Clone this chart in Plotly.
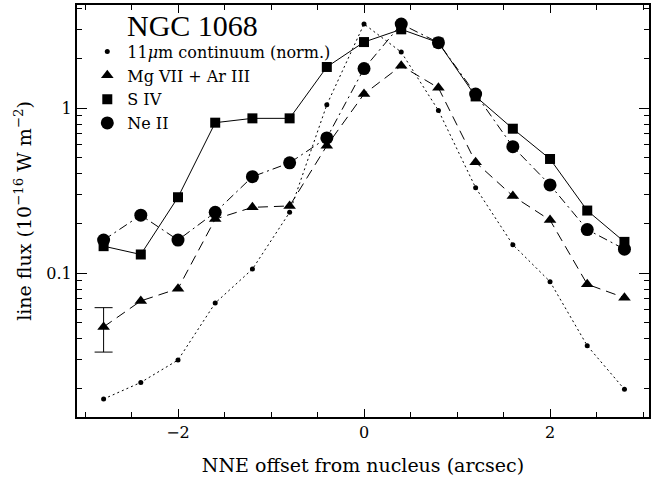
import plotly.graph_objects as go

offset = [-2.8, -2.4, -2.0, -1.6, -1.2, -0.8, -0.4, 0.0, 0.4, 0.8, 1.2, 1.6, 2.0, 2.4, 2.8]
continuum = [0.0173, 0.0218, 0.0298, 0.066, 0.106, 0.234, 1.05, 3.24, 2.19, 0.97, 0.330, 0.149, 0.089, 0.0364, 0.0198]
mg_ar = [0.0473, 0.068, 0.0807, 0.213, 0.251, 0.256, 0.593, 1.22, 1.81, 1.33, 0.471, 0.294, 0.210, 0.0858, 0.0711]
s_iv = [0.146, 0.130, 0.289, 0.818, 0.869, 0.869, 1.78, 2.52, 3.01, 2.50, 1.18, 0.752, 0.493, 0.240, 0.155]
ne_ii = [0.159, 0.225, 0.159, 0.234, 0.385, 0.467, 0.661, 1.74, 3.24, 2.50, 1.22, 0.585, 0.343, 0.184, 0.140]

err_x = [-2.8]
err_y = [0.0476]
err_size = [0.0143]

names = ["11<i>μ</i>m continuum (norm.)", "Mg VII + Ar III", "S IV", "Ne II"]
x_ticks = [-2, 0, 2]
y_ticks = [0.1, 1]
y_tick_text = ["0.1", "1"]

FONT = "DejaVu Serif"

fig = go.Figure()

series = [
    (continuum, "circle", 5, "2px,3px"),
    (mg_ar, "triangle-up", 11, "10px,6px"),
    (s_iv, "square", 10, "solid"),
    (ne_ii, "circle", 13, "9px,4px,2px,4px"),
]

for (vals, sym, size, dash), name in zip(series, names):
    fig.add_trace(go.Scatter(
        x=offset, y=vals, mode="lines+markers",
        line=dict(color="black", width=1, dash=dash),
        marker=dict(symbol=sym, size=size, color="black"),
        showlegend=False,
    ))

# error bar on first Mg VII point
fig.add_trace(go.Scatter(
    x=err_x, y=err_y, mode="markers",
    marker=dict(size=1, color="black"),
    error_y=dict(type="data", array=err_size, color="black", thickness=1, width=9),
    showlegend=False,
))

# legend-only entries (markers only)
for (vals, sym, size, dash), name in zip(series, names):
    fig.add_trace(go.Scatter(
        x=[None], y=[None], mode="markers", name=name,
        marker=dict(symbol=sym, size=size, color="black"),
        showlegend=True,
    ))

fig.add_annotation(
    text="NGC 1068", xref="paper", yref="paper",
    x=0.084, y=0.995, xanchor="left", yanchor="top",
    showarrow=False, font=dict(family="Liberation Serif", size=30, color="black"),
)

axis_common = dict(
    showline=True, linecolor="black", linewidth=2, mirror="ticks",
    ticks="inside", tickcolor="black", showgrid=False, zeroline=False,
    tickfont=dict(family=FONT, size=16, color="black"),
)

fig.update_xaxes(
    range=[-3.086, 3.064], tickvals=x_ticks, ticktext=["−2", "0", "2"],
    ticklen=8, tickwidth=1,
    minor=dict(ticks="inside", dtick=0.5, tick0=0, ticklen=5, tickcolor="black", tickwidth=1, showgrid=False),
    title=dict(text="NNE offset from nucleus (arcsec)", font=dict(family=FONT, size=19, color="black"), standoff=17),
    **axis_common,
)
fig.update_yaxes(
    type="log", range=[-1.871, 0.626], tickvals=y_ticks, ticktext=y_tick_text,
    ticklen=10, tickwidth=1,
    minor=dict(ticks="inside", dtick="D1", ticklen=5, tickcolor="black", tickwidth=1, showgrid=False),
    title=dict(text="line flux (10<sup>−16</sup> W m<sup>−2</sup>)", font=dict(family=FONT, size=19, color="black"), standoff=10),
    **axis_common,
)

fig.update_layout(
    width=652, height=480,
    margin=dict(l=77, r=1, t=5, b=63),
    plot_bgcolor="white", paper_bgcolor="white",
    legend=dict(
        x=0.018, y=0.928, xanchor="left", yanchor="top",
        font=dict(family=FONT, size=16, color="black"),
        bgcolor="rgba(0,0,0,0)", borderwidth=0, itemwidth=30, tracegroupgap=0,
    ),
)

fig.write_html("out.html")
